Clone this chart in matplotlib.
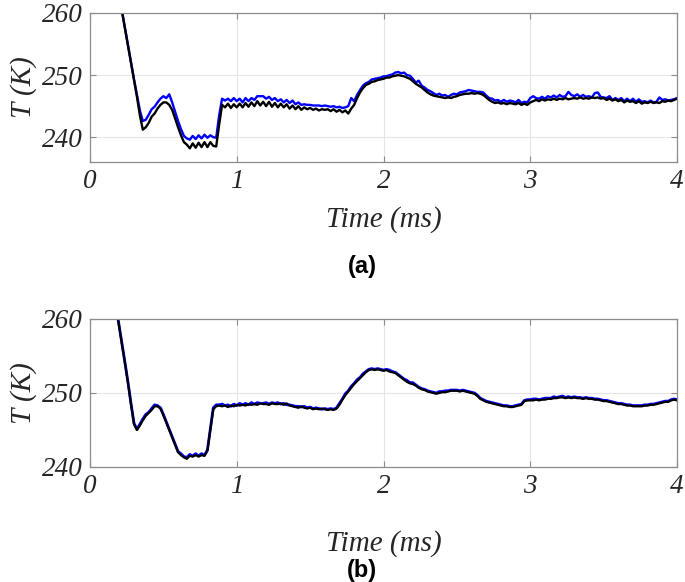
import numpy as np
import matplotlib
matplotlib.use("Agg")
import matplotlib.pyplot as plt

# ---------------- data ----------------
t0_a, dt = 0.20, 0.02
Ta_black = [
    262.7, 260.0, 257.3, 254.6, 251.9, 249.2, 246.5, 243.5, 241.2, 241.6,
    242.3, 243.3, 243.8, 244.6, 245.2, 245.6, 245.6, 245.2, 244.4, 243.0,
    241.6, 240.3, 239.2, 238.8, 238.2, 239.0, 238.3, 239.1, 238.4, 239.2,
    238.4, 239.2, 238.6, 238.5, 242.0, 245.2, 244.8, 245.4, 244.7, 245.3,
    244.8, 245.4, 244.8, 245.5, 244.9, 245.6, 245.0, 245.8, 245.1, 245.7,
    245.0, 245.7, 244.9, 245.5, 244.8, 245.4, 244.8, 245.3, 244.6, 245.1,
    244.5, 245.0, 244.4, 244.8, 244.5, 244.7, 244.4, 244.6, 244.3, 244.5,
    244.4, 244.5, 244.2, 244.5, 244.1, 244.4, 244.0, 244.3, 243.8, 244.6,
    245.2, 246.3, 247.2, 247.9, 248.4, 248.6, 248.9, 249.0, 249.2, 249.3,
    249.4, 249.6, 249.6, 249.8, 249.9, 250.0, 249.9, 249.8, 249.6, 249.4,
    249.0, 248.6, 248.3, 248.0, 247.6, 247.2, 246.9, 246.7, 246.6, 246.5,
    246.4, 246.3, 246.4, 246.3, 246.5, 246.6, 246.8, 246.9, 247.0, 247.0,
    247.1, 247.0, 247.1, 247.0, 246.8, 246.4, 246.0, 245.7, 245.5, 245.6,
    245.4, 245.5, 245.3, 245.5, 245.4, 245.3, 245.5, 245.2, 245.4, 245.2,
    245.6, 245.8, 246.0, 245.8, 246.1, 245.9, 246.1, 246.0, 246.2, 246.0,
    246.2, 246.1, 246.3, 246.1, 246.2, 246.3, 246.2, 246.4, 246.2, 246.3,
    246.2, 246.4, 246.3, 246.4, 246.2, 246.3, 246.0, 246.2, 245.9, 246.1,
    245.8, 246.0, 245.6, 245.9, 245.7, 245.8, 245.5, 245.8, 245.4, 245.6,
    245.5, 245.7, 245.5, 245.6, 245.5, 245.8, 245.7, 245.9, 245.8, 246.0,
    246.2,
]
Ta_blue = [
    262.7, 260.0, 257.3, 254.6, 251.9, 249.3, 246.8, 244.3, 242.6, 242.8,
    243.6, 244.5, 244.9, 245.6, 246.2, 246.6, 246.3, 246.9, 245.6, 244.1,
    242.6, 241.3, 240.2, 239.8, 239.6, 240.2, 239.7, 240.3, 239.8, 240.4,
    239.9, 240.3, 240.0, 239.9, 243.5, 246.2, 245.9, 246.2, 245.8, 246.3,
    245.8, 246.2, 245.6, 246.3, 245.8, 246.3, 246.0, 246.6, 246.6, 246.6,
    246.2, 246.5, 246.0, 246.3, 245.8, 246.1, 245.6, 246.0, 245.5, 245.9,
    245.3, 245.6, 245.2, 245.3, 245.2, 245.2, 245.1, 245.1, 245.1, 245.0,
    245.1, 245.0, 244.9, 245.0, 244.8, 244.9, 244.7, 244.8, 245.0, 246.3,
    245.8, 246.8, 247.6, 248.3, 248.7, 248.9, 249.3, 249.4, 249.5, 249.6,
    249.8, 249.8, 250.0, 250.1, 250.4, 250.5, 250.3, 250.4, 250.0, 249.9,
    249.4, 248.8, 249.1, 248.3, 248.0, 247.6, 247.4, 247.1, 246.8, 247.0,
    246.7, 246.8, 246.5, 246.8, 247.0, 246.9, 247.2, 247.3, 247.4, 247.6,
    247.5, 247.4, 247.3, 247.3, 247.2, 246.7, 246.3, 246.2, 245.9, 246.0,
    245.7, 246.0, 245.7, 245.9, 245.8, 245.6, 246.0, 245.5, 245.7, 245.6,
    246.3, 246.6, 246.3, 246.2, 246.5, 246.2, 246.6, 246.4, 246.7, 246.4,
    246.8, 246.5, 246.6, 247.3, 246.8, 246.6, 246.9, 246.5, 246.8, 246.5,
    246.6, 246.4, 247.1, 247.2, 246.5, 246.4, 246.3, 246.6, 246.0, 246.3,
    246.0, 246.3, 245.8, 246.2, 245.8, 246.2, 245.7, 246.1, 245.7, 245.8,
    245.6, 245.9, 245.6, 245.7, 246.4, 246.0, 246.1, 245.9, 246.0, 246.1,
    246.3,
]

t0_b = 0.18
Tb_black = [
    261.3, 258.8, 256.3, 253.8, 251.2, 248.4, 245.8, 245.0, 245.6, 246.3,
    246.9, 247.3, 247.7, 248.2, 248.2, 247.9, 247.0, 246.0, 245.0, 244.0,
    243.0, 242.0, 241.6, 241.3, 241.1, 241.5, 241.4, 241.6, 241.4, 241.6,
    241.5, 242.2, 245.0, 247.8, 248.2, 248.3, 248.2, 248.3, 248.1, 248.3,
    248.2, 248.4, 248.3, 248.4, 248.3, 248.5, 248.4, 248.5, 248.4, 248.6,
    248.5, 248.5, 248.4, 248.6, 248.5, 248.5, 248.6, 248.4, 248.6, 248.3,
    248.2, 248.1, 248.0, 248.2, 248.0, 247.9, 248.0, 247.8, 247.9, 247.8,
    247.9, 247.8, 247.7, 247.8, 247.7, 247.9, 248.4, 249.1, 249.7, 250.2,
    250.7, 251.2, 251.6, 252.0, 252.4, 252.8, 253.1, 253.2, 253.1, 253.2,
    253.1, 253.0, 253.1, 252.9, 252.8, 252.7, 252.4, 252.1, 251.8, 251.5,
    251.3, 251.2, 251.0, 250.7, 250.5, 250.4, 250.2, 250.1, 250.0, 249.9,
    250.0, 250.1, 250.1, 250.2, 250.3, 250.3, 250.3, 250.2, 250.3, 250.2,
    250.1, 250.0, 249.9, 249.6, 249.2, 249.0, 248.8, 248.7, 248.6, 248.5,
    248.4, 248.3, 248.2, 248.2, 248.1, 248.1, 248.2, 248.3, 248.4, 248.9,
    249.0, 249.0, 249.0, 249.1, 249.0, 249.1, 249.1, 249.2, 249.2, 249.3,
    249.3, 249.4, 249.4, 249.3, 249.4, 249.3, 249.4, 249.3, 249.3, 249.2,
    249.3, 249.2, 249.2, 249.1, 249.1, 249.0, 248.9, 248.9, 248.8, 248.7,
    248.6, 248.5, 248.5, 248.4, 248.3, 248.3, 248.2, 248.2, 248.2, 248.2,
    248.3, 248.3, 248.4, 248.4, 248.5, 248.6, 248.7, 248.8, 248.8, 249.0,
    249.1, 249.0,
]
Tb_blue = [
    261.4, 258.9, 256.4, 253.9, 251.3, 248.5, 245.9, 245.1, 245.8, 246.5,
    247.1, 247.4, 247.9, 248.4, 248.3, 248.0, 247.1, 246.1, 245.1, 244.1,
    243.1, 242.1, 241.8, 241.4, 241.3, 241.7, 241.5, 241.8, 241.5, 241.8,
    241.6, 242.3, 245.2, 248.0, 248.4, 248.4, 248.5, 248.3, 248.4, 248.2,
    248.5, 248.3, 248.6, 248.4, 248.6, 248.4, 248.7, 248.5, 248.7, 248.6,
    248.6, 248.7, 248.5, 248.7, 248.6, 248.7, 248.5, 248.6, 248.4, 248.4,
    248.3, 248.2, 248.2, 248.1, 248.2, 248.0, 248.1, 247.9, 248.0, 247.9,
    247.8, 247.9, 247.8, 247.9, 247.8, 248.0, 248.6, 249.2, 249.9, 250.3,
    250.9, 251.3, 251.8, 252.1, 252.6, 252.9, 253.2, 253.3, 253.2, 253.3,
    253.2, 253.1, 253.2, 253.1, 252.9, 252.8, 252.5, 252.2, 251.9, 251.7,
    251.4, 251.4, 251.1, 250.8, 250.6, 250.5, 250.3, 250.2, 250.1, 250.0,
    250.2, 250.2, 250.3, 250.3, 250.4, 250.4, 250.4, 250.3, 250.4, 250.3,
    250.2, 250.1, 250.0, 249.7, 249.3, 249.1, 248.9, 248.8, 248.7, 248.6,
    248.5, 248.4, 248.3, 248.3, 248.2, 248.2, 248.3, 248.4, 248.5, 249.0,
    249.1, 249.1, 249.2, 249.2, 249.1, 249.2, 249.3, 249.3, 249.3, 249.5,
    249.4, 249.5, 249.6, 249.4, 249.5, 249.4, 249.5, 249.4, 249.4, 249.3,
    249.4, 249.3, 249.3, 249.2, 249.2, 249.1, 249.0, 249.0, 248.9, 248.8,
    248.7, 248.6, 248.6, 248.5, 248.4, 248.4, 248.3, 248.3, 248.3, 248.3,
    248.4, 248.4, 248.5, 248.5, 248.6, 248.7, 248.8, 248.9, 248.9, 249.1,
    249.2, 249.1,
]

xticks = [0, 1, 2, 3, 4]
yticks_a = [240, 250, 260]
yticks_b = [240, 250, 260]
ylim_a = (236, 260)
ylim_b = (240, 260)
xlabel = "Time (ms)"
ylabel = "T (K)"
panel_labels = ["(a)", "(b)"]

# ---------------- figure ----------------
W, H = 685, 582
fig = plt.figure(figsize=(W/100, H/100), dpi=100)
L, R = 90, 677
ax_a = fig.add_axes([L/W, 1-162/H, (R-L)/W, 149/H])
ax_b = fig.add_axes([L/W, 1-467/H, (R-L)/W, 148/H])

serif = dict(family="Liberation Serif", style="italic")

def style(ax, ylim, yticks):
    ax.set_xlim(0, 4)
    ax.set_ylim(*ylim)
    ax.set_xticks(xticks)
    ax.set_yticks(yticks)
    ax.grid(True, color="#e6e6e6", linewidth=0.8)
    ax.set_axisbelow(True)
    for s in ax.spines.values():
        s.set_color("#8c8c8c")
        s.set_linewidth(0.9)
    ax.tick_params(direction="in", top=True, right=True, length=4,
                   color="#8c8c8c", width=0.8, labelsize=19.5,
                   labelcolor="#262626", pad=5)
    for lab in ax.get_xticklabels() + ax.get_yticklabels():
        lab.set_family("Liberation Serif")
        lab.set_style("italic")

t_a = t0_a + dt*np.arange(len(Ta_black))
t_b = t0_b + dt*np.arange(len(Tb_black))

ax_a.plot(t_a, Ta_blue, color="#0000ff", lw=1.7)
ax_a.plot(t_a, Ta_black, color="black", lw=1.7)
ax_b.plot(t_b, Tb_blue, color="#0000ff", lw=2.0)
ax_b.plot(t_b, Tb_black, color="black", lw=1.6)

style(ax_a, ylim_a, yticks_a)
style(ax_b, ylim_b, yticks_b)

for ax in (ax_a, ax_b):
    ax.set_xlabel(xlabel, fontsize=21, color="#262626", va="center", **serif)
    ax.set_ylabel(ylabel, fontsize=21, color="#262626", labelpad=4, **serif)

ax_a.xaxis.set_label_coords(0.5, (162-220)/149)
ax_b.xaxis.set_label_coords(0.5, (467-544)/148)

fig.text(362/W, 1-267/H, panel_labels[0], ha="center", va="center",
         fontsize=17, fontweight="bold", family="Liberation Sans")
fig.text(362/W, 1-570/H, panel_labels[1], ha="center", va="center",
         fontsize=17, fontweight="bold", family="Liberation Sans")

fig.savefig("out.png", dpi=100)
